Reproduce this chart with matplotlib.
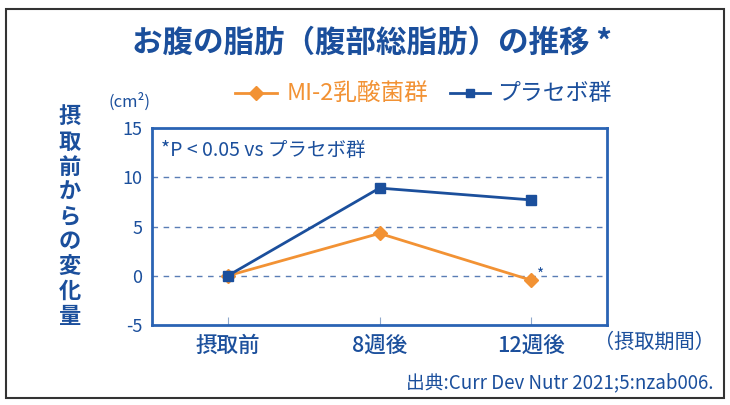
import matplotlib
matplotlib.use("Agg")
import matplotlib.pyplot as plt
from matplotlib.patches import Rectangle

plt.rcParams["font.family"] = ["Noto Sans CJK JP", "DejaVu Sans"]

# data
periods = ["摂取前", "8週後", "12週後"]
mi2 = [0.0, 4.3, -0.45]
placebo = [0.0, 8.9, 7.7]
yticks = [-5, 0, 5, 10, 15]
grid_vals = [0, 5, 10]

BLUE = "#1b4f9c"
SPINE = "#2a63b4"
ORANGE = "#f29234"
GRID = "#5a7db5"


def fx(px):
    return px / 730


def fy(py):
    return 1 - py / 405


fig = plt.figure(figsize=(7.3, 4.05), dpi=100)
fig.patches.append(Rectangle((fx(6), fy(398)), fx(718), 389 / 405,
                             transform=fig.transFigure, fill=False,
                             edgecolor="#333333", linewidth=1.5))

ax = fig.add_axes([fx(152), fy(325), fx(455), 197 / 405])
x = range(len(periods))
for g in grid_vals:
    ax.axhline(g, color=GRID, linestyle=(0, (4, 4)), linewidth=1.0, zorder=1)
ax.plot(x, mi2, color=ORANGE, linewidth=2, marker="D", markersize=7, zorder=3)
ax.plot(x, placebo, color=BLUE, linewidth=2, marker="s", markersize=7, zorder=4)

ax.set_xlim(-0.5, 2.5)
ax.set_ylim(-5, 15)
ax.set_xticks(list(x))
ax.set_xticklabels(periods, fontsize=15.5, color=BLUE, fontweight="medium")
ax.set_yticks(yticks)
ax.set_yticklabels([str(v) for v in yticks], fontsize=13, color=BLUE)
ax.tick_params(axis="y", length=0, pad=7)
ax.tick_params(axis="x", direction="in", length=6, color="#8fa8cc", pad=7)
for s in ax.spines.values():
    s.set_color(SPINE)
    s.set_linewidth(2)

ax.text(2.06, 0.1, "*", color=BLUE, fontsize=11, ha="center", va="center")
ax.text(0.02, 0.885, "*P < 0.05 vs プラセボ群", transform=ax.transAxes,
        fontsize=14, color=BLUE, va="center")

fig.text(fx(372), fy(43), "お腹の脂肪（腹部総脂肪）の推移 *", ha="center",
         va="center", fontsize=22, fontweight="bold", color=BLUE)

# legend drawn by hand, like the original
fig.lines.append(plt.Line2D([fx(235), fx(256), fx(277)], [fy(93)] * 3,
                            transform=fig.transFigure, color=ORANGE, linewidth=2,
                            marker="D", markersize=7, markevery=[1]))
fig.text(fx(287), fy(93), "MI-2乳酸菌群", ha="left", va="center",
         fontsize=17, color=ORANGE)
fig.lines.append(plt.Line2D([fx(450), fx(470), fx(490)], [fy(93)] * 3,
                            transform=fig.transFigure, color=BLUE, linewidth=2,
                            marker="s", markersize=6, markevery=[1]))
fig.text(fx(497), fy(93), "プラセボ群", ha="left", va="center",
         fontsize=16.5, color=BLUE)

fig.text(fx(130), fy(102), "(cm²)", ha="center", va="center",
         fontsize=12, color=BLUE)
fig.text(fx(70), fy(217), "\n".join("摂取前からの変化量"), ha="center",
         va="center", fontsize=16, fontweight="bold", color=BLUE, linespacing=1.1)
fig.text(fx(654), fy(342), "（摂取期間）", ha="center", va="center",
         fontsize=14.5, color=BLUE)
fig.text(fx(713), fy(383), "出典:Curr Dev Nutr 2021;5:nzab006.",
         ha="right", va="center", fontsize=13.5, color=BLUE)

fig.savefig("out.png", dpi=100)
